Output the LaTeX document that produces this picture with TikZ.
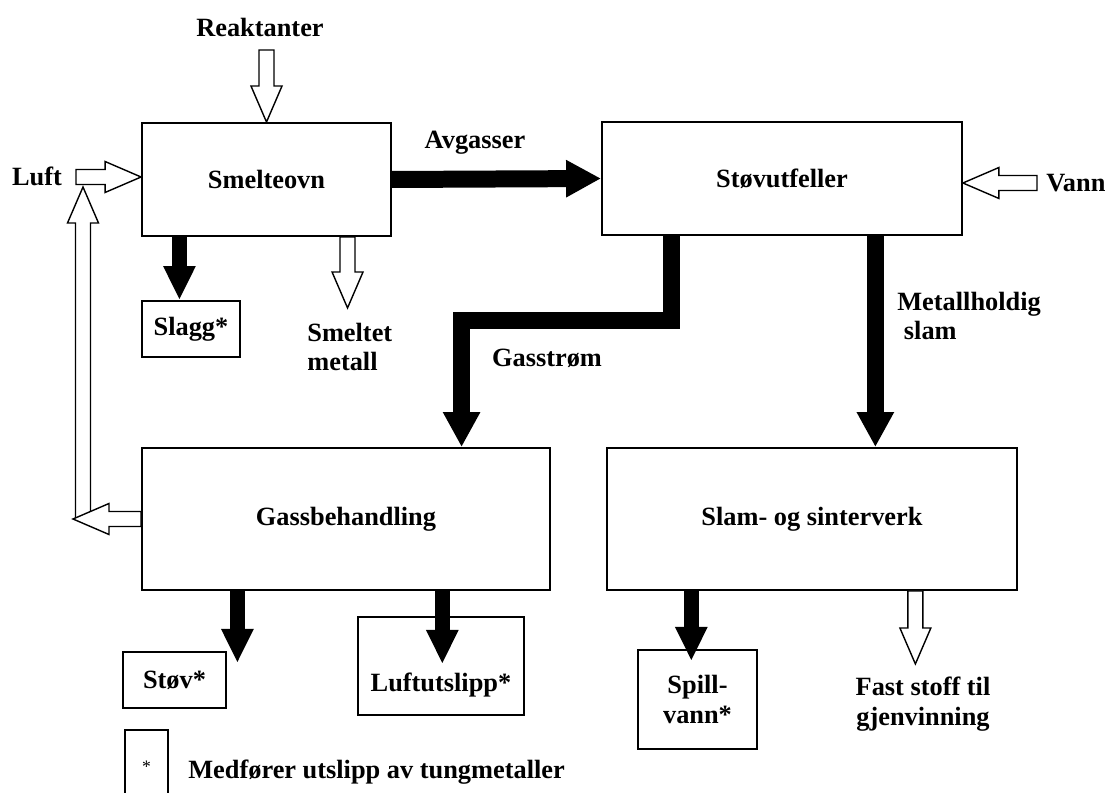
\documentclass[tikz,border=0pt]{standalone}
\usepackage{fontspec}
\setmainfont{Liberation Serif}
\usetikzlibrary{arrows.meta,calc}

\newcommand{\labelfont}{\bfseries\fontsize{15}{17}\selectfont}
\tikzset{
	unit/.style={draw, line width=1.1pt, inner sep=0pt, font=\labelfont},
	txt/.style={inner sep=0pt, font=\labelfont},
	flow/.style={line width=0.34cm, -{Triangle[width=0.70cm,length=0.70cm]}},
	thinflow/.style={line width=0.30cm, -{Triangle[width=0.60cm,length=0.68cm]}},
	hollow/.style={draw, line width=0.8pt, fill=white, line join=miter},
}
% hollow block arrow from #1 to #2
\newcommand{\hollowarrow}[2]{%
	\path (#1) coordinate (has) (#2) coordinate (hae);
	\coordinate (hah) at ($(hae)!0.72cm!(has)$);
	\draw[hollow] ($(has)!0.15cm!90:(hae)$) -- ($(hah)!0.15cm!90:(hae)$)
		-- ($(hah)!0.31cm!90:(hae)$) -- (hae)
		-- ($(hah)!0.31cm!-90:(hae)$) -- ($(hah)!0.15cm!-90:(hae)$)
		-- ($(has)!0.15cm!-90:(hae)$) -- cycle;
}

\begin{document}
\begin{tikzpicture}[x=0.02cm,y=-0.02cm]
	\useasboundingbox (0,0) rectangle (1115,793);
	\clip (0,0) rectangle (1115,793);
	% process units
	\node[unit, minimum width=4.98cm, minimum height=2.26cm] (smelt) at (266.5,179.5) {Smelteovn};
	\node[unit, minimum width=7.20cm, minimum height=2.26cm] (stov) at (782,178.5) {Støvutfeller};
	\node[unit, minimum width=8.16cm, minimum height=2.84cm] (gass) at (346,519) {Gassbehandling};
	\node[unit, minimum width=8.20cm, minimum height=2.84cm] (slam) at (812,519) {Slam- og sinterverk};
	% outputs
	\node[unit, minimum width=1.96cm, minimum height=1.12cm] (slagg) at (191,329) {Slagg*};
	\node[unit, minimum width=2.06cm, minimum height=1.12cm] (dust) at (174.5,680) {Støv*};
	\node[unit, minimum width=3.32cm, minimum height=1.96cm] (airout) at (441,666) {};
	\node[txt] (airtxt) at (441,685) {Luftutslipp*};
	\node[unit, align=center, minimum width=2.38cm, minimum height=1.98cm] (spill) at (697.5,699.5) {Spill-\\vann*};
	\node[unit, font=\fontsize{10}{12}\selectfont, minimum width=0.86cm, minimum height=1.48cm] (legend) at (146.5,767) {*};
	% labels
	\node[txt] (reak) at (260,27) {Reaktanter};
	\node[txt] (luft) at (37,176) {Luft};
	\node[txt] (avg) at (475,143) {Avgasser};
	\node[txt, anchor=west] (vann) at (1046,183) {Vann};
	\node[txt, anchor=west, align=left] (molten) at (307,347) {Smeltet\\metall};
	\node[txt] (gaslbl) at (547,358) {Gasstrøm};
	\node[txt, anchor=west, align=left] (sludge) at (897,316) {Metallholdig\\\ slam};
	\node[txt, align=center] (solid) at (923,704) {Fast stoff til\\gjenvinning};
	\node[txt, anchor=west] (legtxt) at (188,772) {Medfører utslipp av tungmetaller};
	% free ends
	\coordinate (reakin) at (266.5,50);
	\coordinate (luftin) at (76,177);
	\coordinate (vannin) at (1037,183);
	\coordinate (retleft) at (73,519);
	\coordinate (retlow) at (83,518);
	\coordinate (rettop) at (83,187);
	\coordinate (metalout) at ($(smelt.south west)!0.823!(smelt.south east)$);
	\coordinate (solidout) at ($(slam.south west)!0.751!(slam.south east)$);

	% hollow arrows
	\hollowarrow{reakin}{reakin |- smelt.north}
	\hollowarrow{retlow}{rettop}
	\hollowarrow{gass.west}{retleft}
	\hollowarrow{luftin}{luftin -| smelt.west}
	\hollowarrow{vannin}{vannin -| stov.east}
	\hollowarrow{metalout}{$(metalout)+(0,71)$}
	\hollowarrow{solidout}{$(solidout)+(0,73)$}

	% black flows
	\draw[flow] (smelt.east) -- (stov.west);
	\draw[thinflow] ($(smelt.south west)!0.153!(smelt.south east)$) coordinate (slagout) -- (slagout |- slagg.north);
	\draw[flow] ($(stov.south west)!0.194!(stov.south east)$) -- ++(0,85) -| ($(gass.north west)!0.782!(gass.north east)$);
	\draw[flow] ($(stov.south west)!0.758!(stov.south east)$) coordinate (sludgeout) -- (sludgeout |- slam.north);
	\draw[thinflow] ($(gass.south west)!0.235!(gass.south east)$) -- ++(0,72);
	\draw[thinflow] ($(gass.south west)!0.735!(gass.south east)$) -- ++(0,73);
	\draw[thinflow] ($(slam.south west)!0.207!(slam.south east)$) -- ++(0,70);
\end{tikzpicture}
\end{document}
